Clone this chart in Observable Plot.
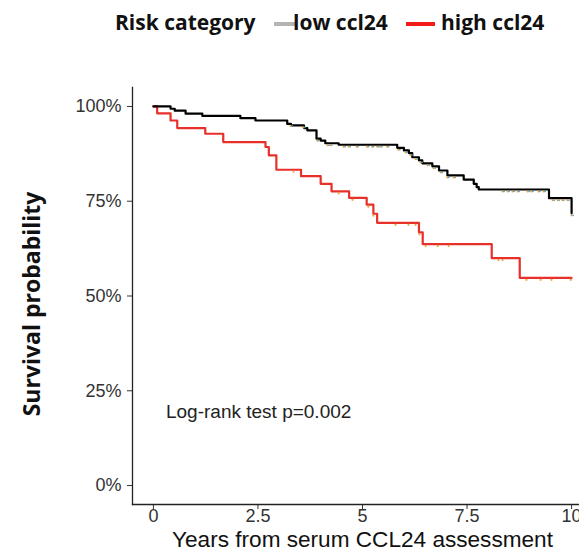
<!DOCTYPE html>
<html>
<head>
<meta charset="utf-8">
<script src="https://cdn.jsdelivr.net/npm/d3@7"></script>
<script src="https://cdn.jsdelivr.net/npm/@observablehq/plot@0.6"></script>
<style>
  html, body { margin: 0; padding: 0; background: #fff; overflow: hidden; }
  #wrap { position: relative; width: 579px; height: 553px; overflow: hidden; }
  #chart { position: absolute; left: 0; top: 0; width: 600px; height: 553px; }
  #chart svg { max-width: none !important; }
  .leg { position: absolute; font-family: "Open Sans", sans-serif; font-weight: 700; font-size: 21px; line-height: 21px; color: #111; white-space: nowrap; }
  .sw { position: absolute; height: 4px; }
</style>
</head>
<body>
<div id="wrap">
  <div id="chart"></div>
  <div class="leg" style="left:115px; top:12px;">Risk category</div>
  <div class="sw" style="left:274px; top:22px; width:21px; background:#b3b3b3;"></div>
  <div class="leg" style="left:293px; top:12px;">low ccl24</div>
  <div class="sw" style="left:406px; top:22px; width:29px; background:#f41a1a;"></div>
  <div class="leg" style="left:441px; top:12px;">high ccl24</div>
</div>
<script>
// Kaplan–Meier estimates by serum CCL24 risk group (years, survival probability)
const lowTime = [0, 0.41, 0.51, 0.77, 1.17, 2.08, 2.44, 3.20, 3.29, 3.60, 3.68, 3.90, 4.00, 4.11, 4.43,
  5.83, 5.99, 6.11, 6.19, 6.35, 6.43, 6.67, 6.83, 7.03, 7.42, 7.66, 7.73, 7.78, 9.46, 10.0];
const lowSurv = [1, 0.994, 0.989, 0.981, 0.975, 0.969, 0.963, 0.954, 0.950, 0.943, 0.937, 0.915, 0.910, 0.903, 0.899,
  0.891, 0.884, 0.877, 0.866, 0.858, 0.850, 0.842, 0.831, 0.818, 0.807, 0.796, 0.787, 0.781, 0.758, 0.718];

const highTime = [0, 0.09, 0.41, 0.57, 1.24, 1.67, 2.68, 2.76, 2.94, 3.53, 4.00, 4.26, 4.68, 5.10, 5.26, 5.35,
  6.35, 6.44, 8.09, 8.76, 10.0];
const highSurv = [1, 0.982, 0.963, 0.943, 0.928, 0.906, 0.893, 0.871, 0.833, 0.816, 0.796, 0.776, 0.759, 0.741, 0.717, 0.693,
  0.668, 0.637, 0.600, 0.548, 0.548];

// Censoring times
const lowCensor = [3.28, 3.59, 3.92, 4.16, 4.23, 4.55, 4.67, 4.86, 5.11, 5.23, 5.35, 5.43, 5.59, 5.86,
  6.03, 6.15, 6.27, 6.39, 6.56, 6.70, 6.87, 7.03, 7.18, 8.35, 8.47, 8.59, 8.71, 8.95, 9.04, 9.21, 9.33,
  9.55, 9.67, 9.78, 9.90, 10.0];
const highCensor = [3.35, 4.43, 4.76, 5.14, 5.26, 5.79, 6.10, 6.27, 6.36, 6.51, 6.80, 7.06, 8.25, 8.35,
  8.92, 9.26, 9.52, 9.98];

const xTicks = [0, 2.5, 5, 7.5, 10];
const xTickLabels = ["0", "2.5", "5", "7.5", "10"];
const yTicks = [0, 0.25, 0.5, 0.75, 1];
const yTickLabels = ["0%", "25%", "50%", "75%", "100%"];

const pValueText = "Log-rank test p=0.002";
const xTitle = "Years from serum CCL24 assessment";
const yTitle = "Survival probability";

const toRows = (t, s) => t.map((d, i) => ({time: d, surv: s[i]}));
const lowRows = toRows(lowTime, lowSurv);
const highRows = toRows(highTime, highSurv);

// survival value of a step curve at time t
function survAt(times, surv, t) {
  let v = surv[0];
  for (let i = 0; i < times.length; i++) if (times[i] <= t) v = surv[i];
  return v;
}
const lowCens = lowCensor.map(t => ({time: t, surv: survAt(lowTime, lowSurv, t)}));
const highCens = highCensor.map(t => ({time: t, surv: survAt(highTime, highSurv, t)}));

const plot = Plot.plot({
  width: 600,
  height: 553,
  marginLeft: 132,
  marginRight: 8,
  marginTop: 87,
  marginBottom: 49,
  x: {domain: [-0.5, 10.5]},
  y: {domain: [-0.05, 1.05]},
  style: {fontFamily: "'Liberation Sans', Arial, sans-serif", background: "transparent", overflow: "visible", maxWidth: "none"},
  marks: [
    Plot.axisY({ticks: yTicks, tickFormat: d => yTickLabels[yTicks.indexOf(d)], fontSize: 18, tickSize: 5, tickPadding: 6, color: "#333", label: null}),
    Plot.axisX({ticks: xTicks, tickFormat: d => xTickLabels[xTicks.indexOf(d)], fontSize: 18, tickSize: 5, tickPadding: 0, color: "#333", label: null}),
    Plot.frame({anchor: "left", stroke: "#222", strokeWidth: 1.3}),
    Plot.frame({anchor: "bottom", stroke: "#222", strokeWidth: 1.3}),
    Plot.line(highRows, {x: "time", y: "surv", curve: "step-after", stroke: "#e8302a", strokeWidth: 2.2}),
    Plot.dot(highCens, {x: "time", y: "surv", r: 1.1, fill: "#f0a040", dy: 2}),
    Plot.line(lowRows, {x: "time", y: "surv", curve: "step-after", stroke: "#000", strokeWidth: 2.2}),
    Plot.dot(lowCens, {x: "time", y: "surv", r: 1.1, fill: "#e8a040", dy: 2}),
    Plot.dot(lowCens, {x: "time", y: "surv", r: 0.8, fill: "#3aa0c8", dy: 2, dx: 1.5}),
    Plot.text([pValueText], {x: 0.3, y: 0.195, text: d => d, textAnchor: "start", fontSize: 19, fill: "#222"}),
    Plot.text([xTitle], {frameAnchor: "bottom", text: d => d, dy: 42, fontSize: 22.6, fill: "#111"}),
    Plot.text([yTitle], {frameAnchor: "left", text: d => d, textAnchor: "middle", rotate: -90, dx: -100, dy: 8, fontSize: 23, fontWeight: 700, fontFamily: "'Open Sans', sans-serif", fill: "#111"})
  ]
});
document.getElementById("chart").appendChild(plot);
</script>
</body>
</html>
